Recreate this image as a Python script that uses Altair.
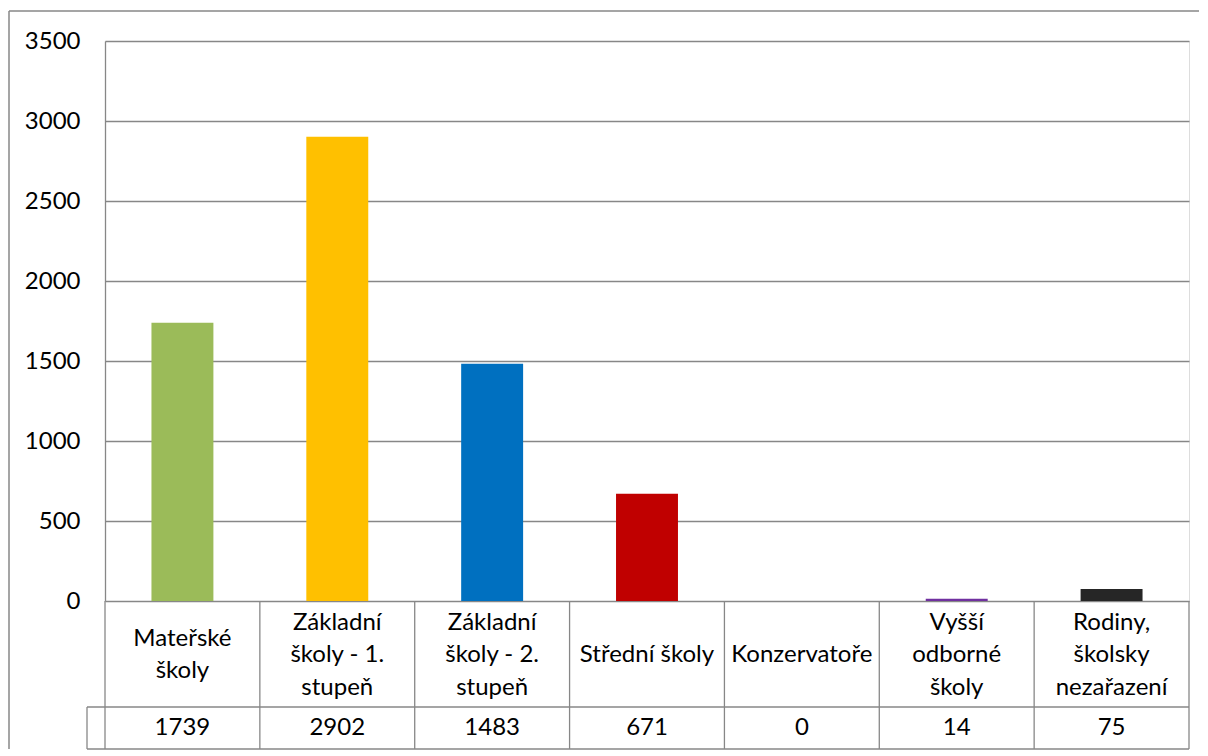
import altair as alt
import pandas as pd

categories = [
    "Mateřské školy",
    "Základní školy - 1. stupeň",
    "Základní školy - 2. stupeň",
    "Střední školy",
    "Konzervatoře",
    "Vyšší odborné školy",
    "Rodiny, školsky nezařazení",
]
label_lines = [
    ["Mateřské", "školy"],
    ["Základní", "školy - 1.", "stupeň"],
    ["Základní", "školy - 2.", "stupeň"],
    ["Střední školy"],
    ["Konzervatoře"],
    ["Vyšší", "odborné", "školy"],
    ["Rodiny,", "školsky", "nezařazení"],
]
values = [1739, 2902, 1483, 671, 0, 14, 75]
colors = ["#9BBB59", "#FFC000", "#0070C0", "#C00000", "#4F81BD", "#7030A0", "#262626"]
y_ticks = [0, 500, 1000, 1500, 2000, 2500, 3000, 3500]

FONT = "Lato"
FS = 24
GRAY = "#878787"
W, H = 1084, 560
ROW1 = 106   # category label row height
ROW2 = 42    # value row height
LEFTCELL = 18
LINE_H = 32.5
STEP = W / len(categories)

df = pd.DataFrame({"cat": categories, "value": values})
rows = []
for c, lines in zip(categories, label_lines):
    for i, t in enumerate(lines):
        rows.append({"cat": c, "line": t, "idx": i, "n": len(lines)})
lab_df = pd.DataFrame(rows)
one = pd.DataFrame({"k": [0]})

xscale = alt.Scale(domain=categories, paddingInner=0.6, paddingOuter=0.3)

base = alt.Chart(df)

bars = base.mark_bar().encode(
    x=alt.X("cat:N", scale=xscale, axis=None, sort=categories),
    y=alt.Y(
        "value:Q",
        scale=alt.Scale(domain=[0, 3500], nice=False),
        axis=alt.Axis(
            values=y_ticks, format="d", grid=True, ticks=False, domain=True, title=None,
            labelFont=FONT, labelFontSize=FS, labelColor="black", labelPadding=25,
            gridColor=GRAY, gridWidth=1.3, domainColor=GRAY, domainWidth=1.3,
        ),
    ),
    color=alt.Color("cat:N", scale=alt.Scale(domain=categories, range=colors), legend=None),
)

# vertical table lines at category (step) boundaries
vlines = base.mark_rule(color=GRAY, strokeWidth=1.3, xOffset=-0.3 * STEP).encode(
    x=alt.X("cat:N", scale=xscale, bandPosition=0, sort=categories),
    y=alt.value(H),
    y2=alt.value(H + ROW1 + ROW2),
)

right_line = alt.Chart(one).mark_rule(color=GRAY, strokeWidth=1.3).encode(
    x=alt.value(W), y=alt.value(H), y2=alt.value(H + ROW1 + ROW2)
)
h1 = alt.Chart(one).mark_rule(color=GRAY, strokeWidth=1.3).encode(
    x=alt.value(-LEFTCELL), x2=alt.value(W), y=alt.value(H + ROW1)
)
h2 = alt.Chart(one).mark_rule(color=GRAY, strokeWidth=1.3).encode(
    x=alt.value(-LEFTCELL), x2=alt.value(W), y=alt.value(H + ROW1 + ROW2)
)
lcell = alt.Chart(one).mark_rule(color=GRAY, strokeWidth=1.3).encode(
    x=alt.value(-LEFTCELL), y=alt.value(H + ROW1), y2=alt.value(H + ROW1 + ROW2)
)

# outer chart border (top and left visible)
border_top = alt.Chart(one).mark_rule(color=GRAY, strokeWidth=1.5).encode(
    x=alt.value(-96), x2=alt.value(1094), y=alt.value(-30)
)
border_left = alt.Chart(one).mark_rule(color=GRAY, strokeWidth=1.5).encode(
    x=alt.value(-96), y=alt.value(-30), y2=alt.value(H + ROW1 + ROW2)
)

labels = alt.Chart(lab_df).transform_calculate(
    ypix=f"{H + ROW1 / 2 + 1} + (datum.idx - (datum.n - 1) / 2) * {LINE_H}"
).mark_text(
    align="center", baseline="middle", font=FONT, fontSize=FS, color="black",
).encode(
    x=alt.X("cat:N", scale=xscale, sort=categories),
    y=alt.Y("ypix:Q", scale=None),
    text="line:N",
)

vals = base.mark_text(
    align="center", baseline="middle", font=FONT, fontSize=FS, color="black",
).encode(
    x=alt.X("cat:N", scale=xscale, sort=categories),
    y=alt.value(H + ROW1 + ROW2 / 2),
    text="value:Q",
)

chart = alt.layer(
    bars, vlines, right_line, h1, h2, lcell, border_top, border_left, labels, vals
).properties(
    width=W, height=H, padding={"left": 0, "top": 2, "right": 0, "bottom": 0}
).configure_view(stroke=None).configure(background="white")

chart.save("out.html", embed_options={"renderer": "svg", "actions": False})
